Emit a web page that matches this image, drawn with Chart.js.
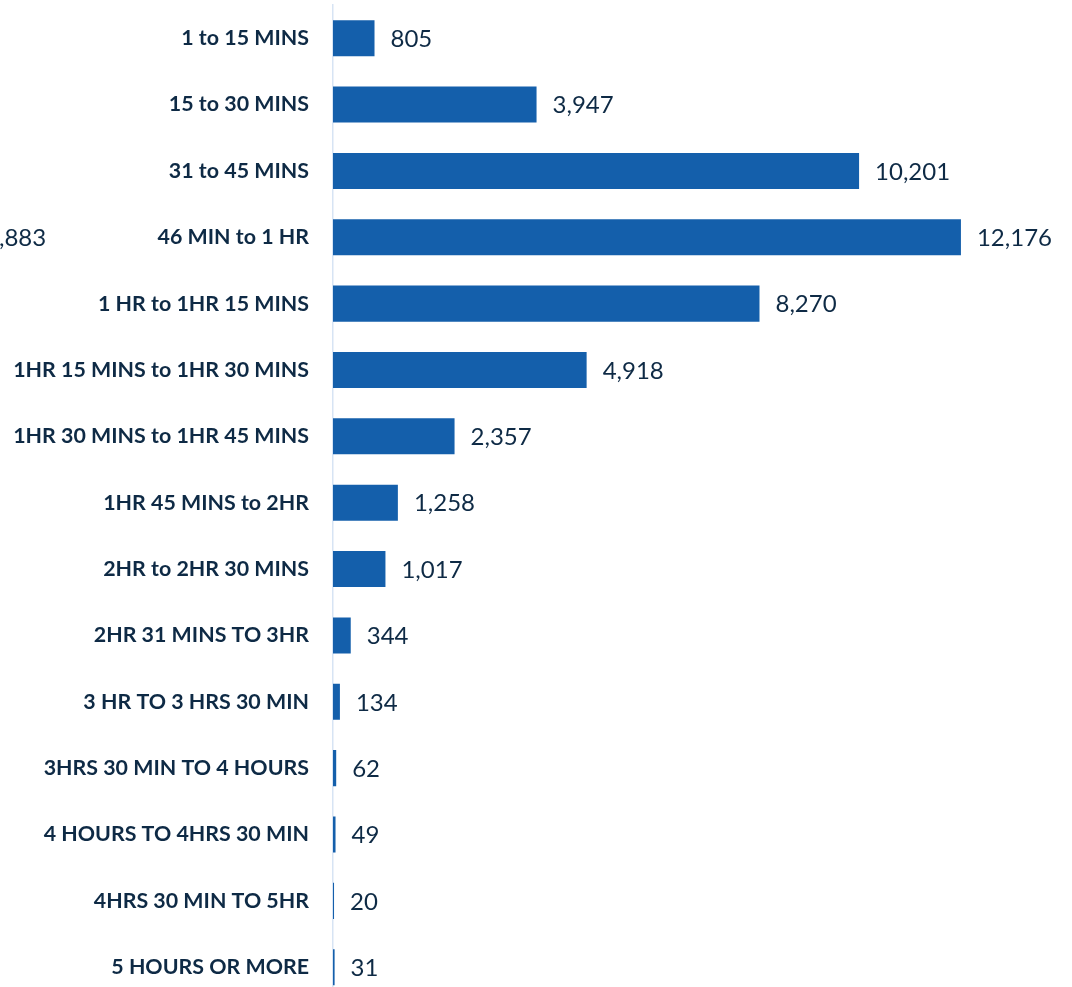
<!DOCTYPE html>
<html>
<head>
<meta charset="utf-8">
<script src="https://cdn.jsdelivr.net/npm/chart.js@4"></script>
<style>
  html, body { margin: 0; padding: 0; background: #ffffff; overflow: hidden; width: 1072px; height: 987px; }
  #chart { position: absolute; left: 0; top: 0; }
</style>
</head>
<body>
<canvas id="chart" width="1072" height="1006"></canvas>
<script>
// Trip duration bands and their counts
const categories = [
  '1 to 15 MINS',
  '15 to 30 MINS',
  '31 to 45 MINS',
  '46 MIN to 1 HR',
  '1 HR to 1HR 15 MINS',
  '1HR 15 MINS to 1HR 30 MINS',
  '1HR 30 MINS to 1HR 45 MINS',
  '1HR 45 MINS to 2HR',
  '2HR to 2HR 30 MINS',
  '2HR 31 MINS TO 3HR',
  '3 HR TO 3 HRS 30 MIN',
  '3HRS 30 MIN TO 4 HOURS',
  '4 HOURS TO 4HRS 30 MIN',
  '4HRS 30 MIN TO 5HR',
  '5 HOURS OR MORE'
];
const counts = [805, 3947, 10201, 12176, 8270, 4918, 2357, 1258, 1017, 344, 134, 62, 49, 20, 31];

// Value spilling in from a neighbouring panel on the left
const sideNote = ',883';

const BAR = '#145fab';
const INK = '#0e2a45';
const AXIS = '#d7e4f4';

const fmt = n => n.toLocaleString('en-US');

const valueLabels = {
  id: 'valueLabels',
  afterDatasetsDraw(chart) {
    const ctx = chart.ctx;
    const meta = chart.getDatasetMeta(0);
    ctx.save();
    ctx.font = '24px Lato';
    ctx.fillStyle = INK;
    ctx.textAlign = 'left';
    ctx.textBaseline = 'middle';
    meta.data.forEach((bar, i) => {
      ctx.fillText(fmt(counts[i]), bar.x + 16, bar.y + 1);
    });
    // stray figure at the far left, level with the fourth row
    const y = meta.data[3].y + 1;
    ctx.fillText(sideNote, -1, y);
    ctx.restore();
  }
};

new Chart(document.getElementById('chart'), {
  type: 'bar',
  data: {
    labels: categories,
    datasets: [{
      data: counts,
      backgroundColor: BAR,
      borderWidth: 0,
      barPercentage: 0.6,
      categoryPercentage: 0.905
    }]
  },
  options: {
    indexAxis: 'y',
    responsive: false,
    animation: false,
    layout: { padding: { top: 5, right: 17, bottom: 5.6, left: 0 } },
    plugins: { legend: { display: false }, tooltip: { enabled: false } },
    scales: {
      x: {
        display: false,
        min: 0,
        max: 14000
      },
      y: {
        afterFit(scale) {
          scale.width = 333;
          scale.paddingTop = 0;
          scale.paddingBottom = 0;
        },
        grid: { display: false, drawTicks: false },
        border: { display: true, color: AXIS, width: 1.5 },
        ticks: {
          padding: 24,
          color: INK,
          font: { family: 'Lato', weight: 'bold', size: 21.4 }
        }
      }
    }
  },
  plugins: [valueLabels]
});
</script>
</body>
</html>
